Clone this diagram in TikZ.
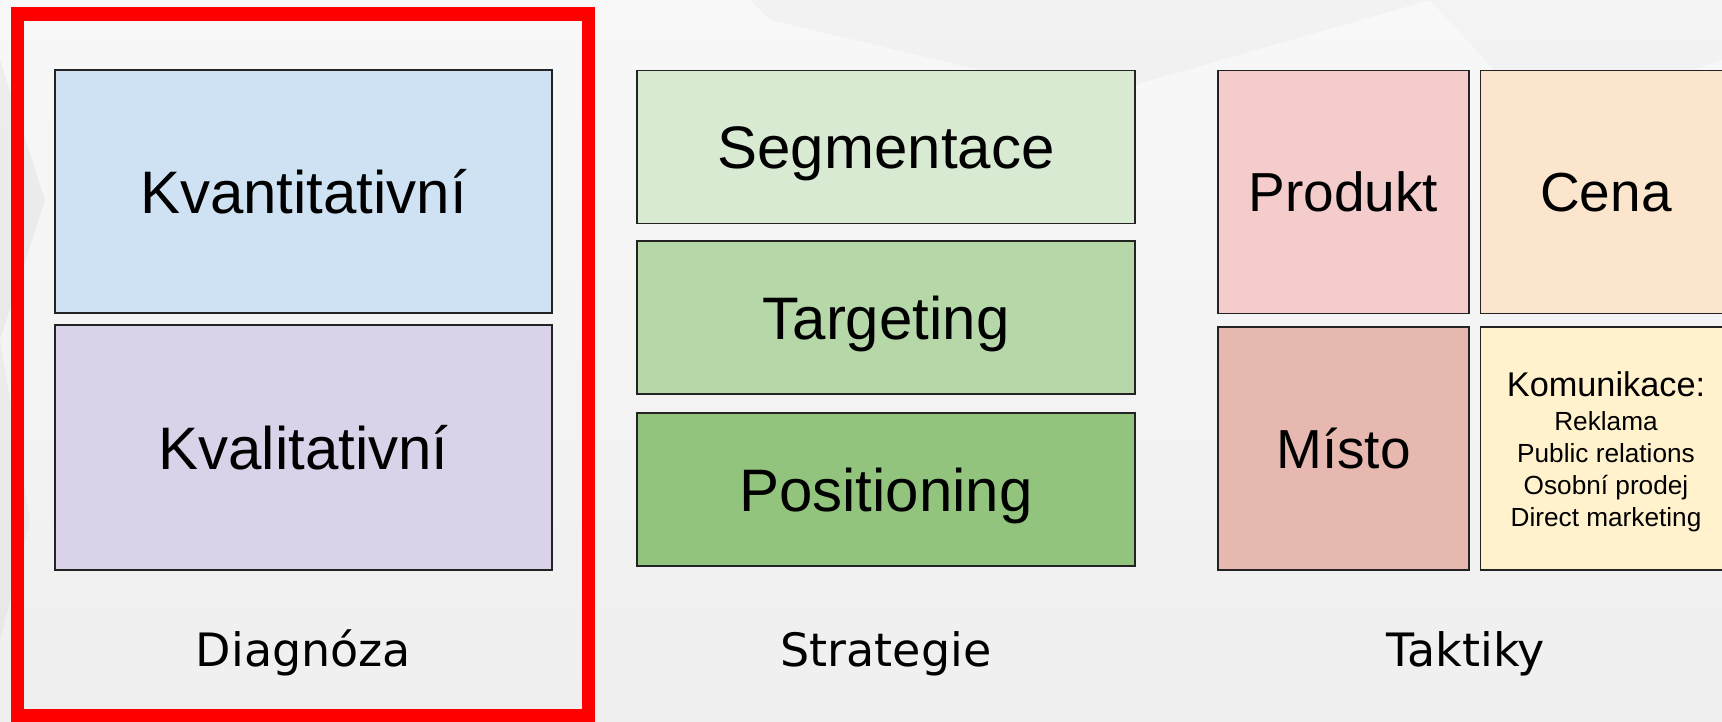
\documentclass[tikz,border=0pt]{standalone}
\usepackage{fontspec}
\setmainfont{Liberation Sans}
\newfontfamily\labelfont{DejaVu Sans}
\definecolor{bgtop}{RGB}{248,248,248}
\definecolor{bgbot}{RGB}{239,239,239}
\definecolor{cKvant}{HTML}{CFE2F3}
\definecolor{cKval}{HTML}{D9D2E9}
\definecolor{cSeg}{HTML}{D9EAD3}
\definecolor{cTarg}{HTML}{B6D7A8}
\definecolor{cPos}{HTML}{93C47D}
\definecolor{cProd}{HTML}{F4CCCC}
\definecolor{cCena}{HTML}{FCE5CD}
\definecolor{cMisto}{HTML}{E6B8AF}
\definecolor{cKom}{HTML}{FFF2CC}
\definecolor{frameRed}{RGB}{255,0,0}
\definecolor{edge}{RGB}{35,35,35}
\tikzset{
  boxnode/.style={draw=edge, line width=1.8pt, inner sep=0pt, outer sep=0pt},
  bigtxt/.style={anchor=base, inner sep=0pt, font=\fontsize{60}{66}\selectfont, text=black},
  midtxt/.style={anchor=base, inner sep=0pt, font=\fontsize{55}{60}\selectfont, text=black},
  komtxt/.style={anchor=base, inner sep=0pt, font=\fontsize{34.3}{38}\selectfont, text=black},
  smalltxt/.style={anchor=base, inner sep=0pt, font=\fontsize{26.2}{30}\selectfont, text=black},
  coltxt/.style={anchor=base, inner sep=0pt, font=\labelfont\fontsize{46}{50}\selectfont, text=black},
}
\begin{document}
\begin{tikzpicture}[x=1pt,y=-1pt]
\useasboundingbox (0,0) rectangle (1722,722);
\begin{scope}
\clip (0,0) rectangle (1722,722);
\shade[top color=bgtop, bottom color=bgbot] (0,0) rectangle (1722,722);
\fill[black, opacity=0.025] (750,0) -- (1430,0) -- (1100,95) -- (980,70) -- (770,20) -- cycle;
\fill[black, opacity=0.02] (1430,0) -- (1722,0) -- (1722,60) -- (1540,120) -- cycle;
\fill[black, opacity=0.04] (0,60) -- (45,200) -- (0,340) -- cycle;
\fill[black, opacity=0.03] (0,340) -- (30,520) -- (0,640) -- cycle;

% Diagnoza
\node[boxnode, fill=cKvant, minimum width=497pt, minimum height=243pt] (kvant) at (303.5,191.5) {};
\node[boxnode, fill=cKval, minimum width=497pt, minimum height=245pt] (kval) at (303.5,447.5) {};
\node[bigtxt] (kvantT) at (303.5,213.3) {Kvantitativní};
\node[bigtxt] (kvalT) at (303.5,469.3) {Kvalitativní};
\node[coltxt] (diag) at (303.5,666) {Diagnóza};

% Strategie
\node[boxnode, fill=cSeg, minimum width=498pt, minimum height=153pt] (seg) at (886,147) {};
\node[boxnode, fill=cTarg, minimum width=498pt, minimum height=153pt] (targ) at (886,317.5) {};
\node[boxnode, fill=cPos, minimum width=498pt, minimum height=153pt] (pos) at (886,489.5) {};
\node[bigtxt] (segT) at (886,168.5) {Segmentace};
\node[bigtxt] (targT) at (886,339) {Targeting};
\node[bigtxt] (posT) at (886,511) {Positioning};
\node[coltxt] (strat) at (886,666) {Strategie};

% Taktiky
\node[boxnode, fill=cProd, minimum width=251pt, minimum height=243pt] (prod) at (1343.5,192) {};
\node[boxnode, fill=cCena, minimum width=251pt, minimum height=243pt] (cena) at (1606,192) {};
\node[boxnode, fill=cMisto, minimum width=251pt, minimum height=243pt] (misto) at (1343.5,448.5) {};
\node[boxnode, fill=cKom, minimum width=251pt, minimum height=243pt] (kom) at (1606,448.5) {};
\node[midtxt] (prodT) at (1343.5,211.7) {Produkt};
\node[midtxt] (cenaT) at (1606,211.7) {Cena};
\node[midtxt] (mistoT) at (1343.5,468.2) {Místo};
\node[komtxt] (komT) at (1606,396) {Komunikace:};
\node[smalltxt] (kom1) at (1606,430.5) {Reklama};
\node[smalltxt] (kom2) at (1606,462) {Public relations};
\node[smalltxt] (kom3) at (1606,494) {Osobní prodej};
\node[smalltxt] (kom4) at (1606,526) {Direct marketing};
\node[coltxt] (takt) at (1466,666) {Taktiky};

% red frame
\draw[frameRed, line width=13.5pt] (17.5,14) rectangle (588.5,715.5);
\end{scope}
\end{tikzpicture}
\end{document}
